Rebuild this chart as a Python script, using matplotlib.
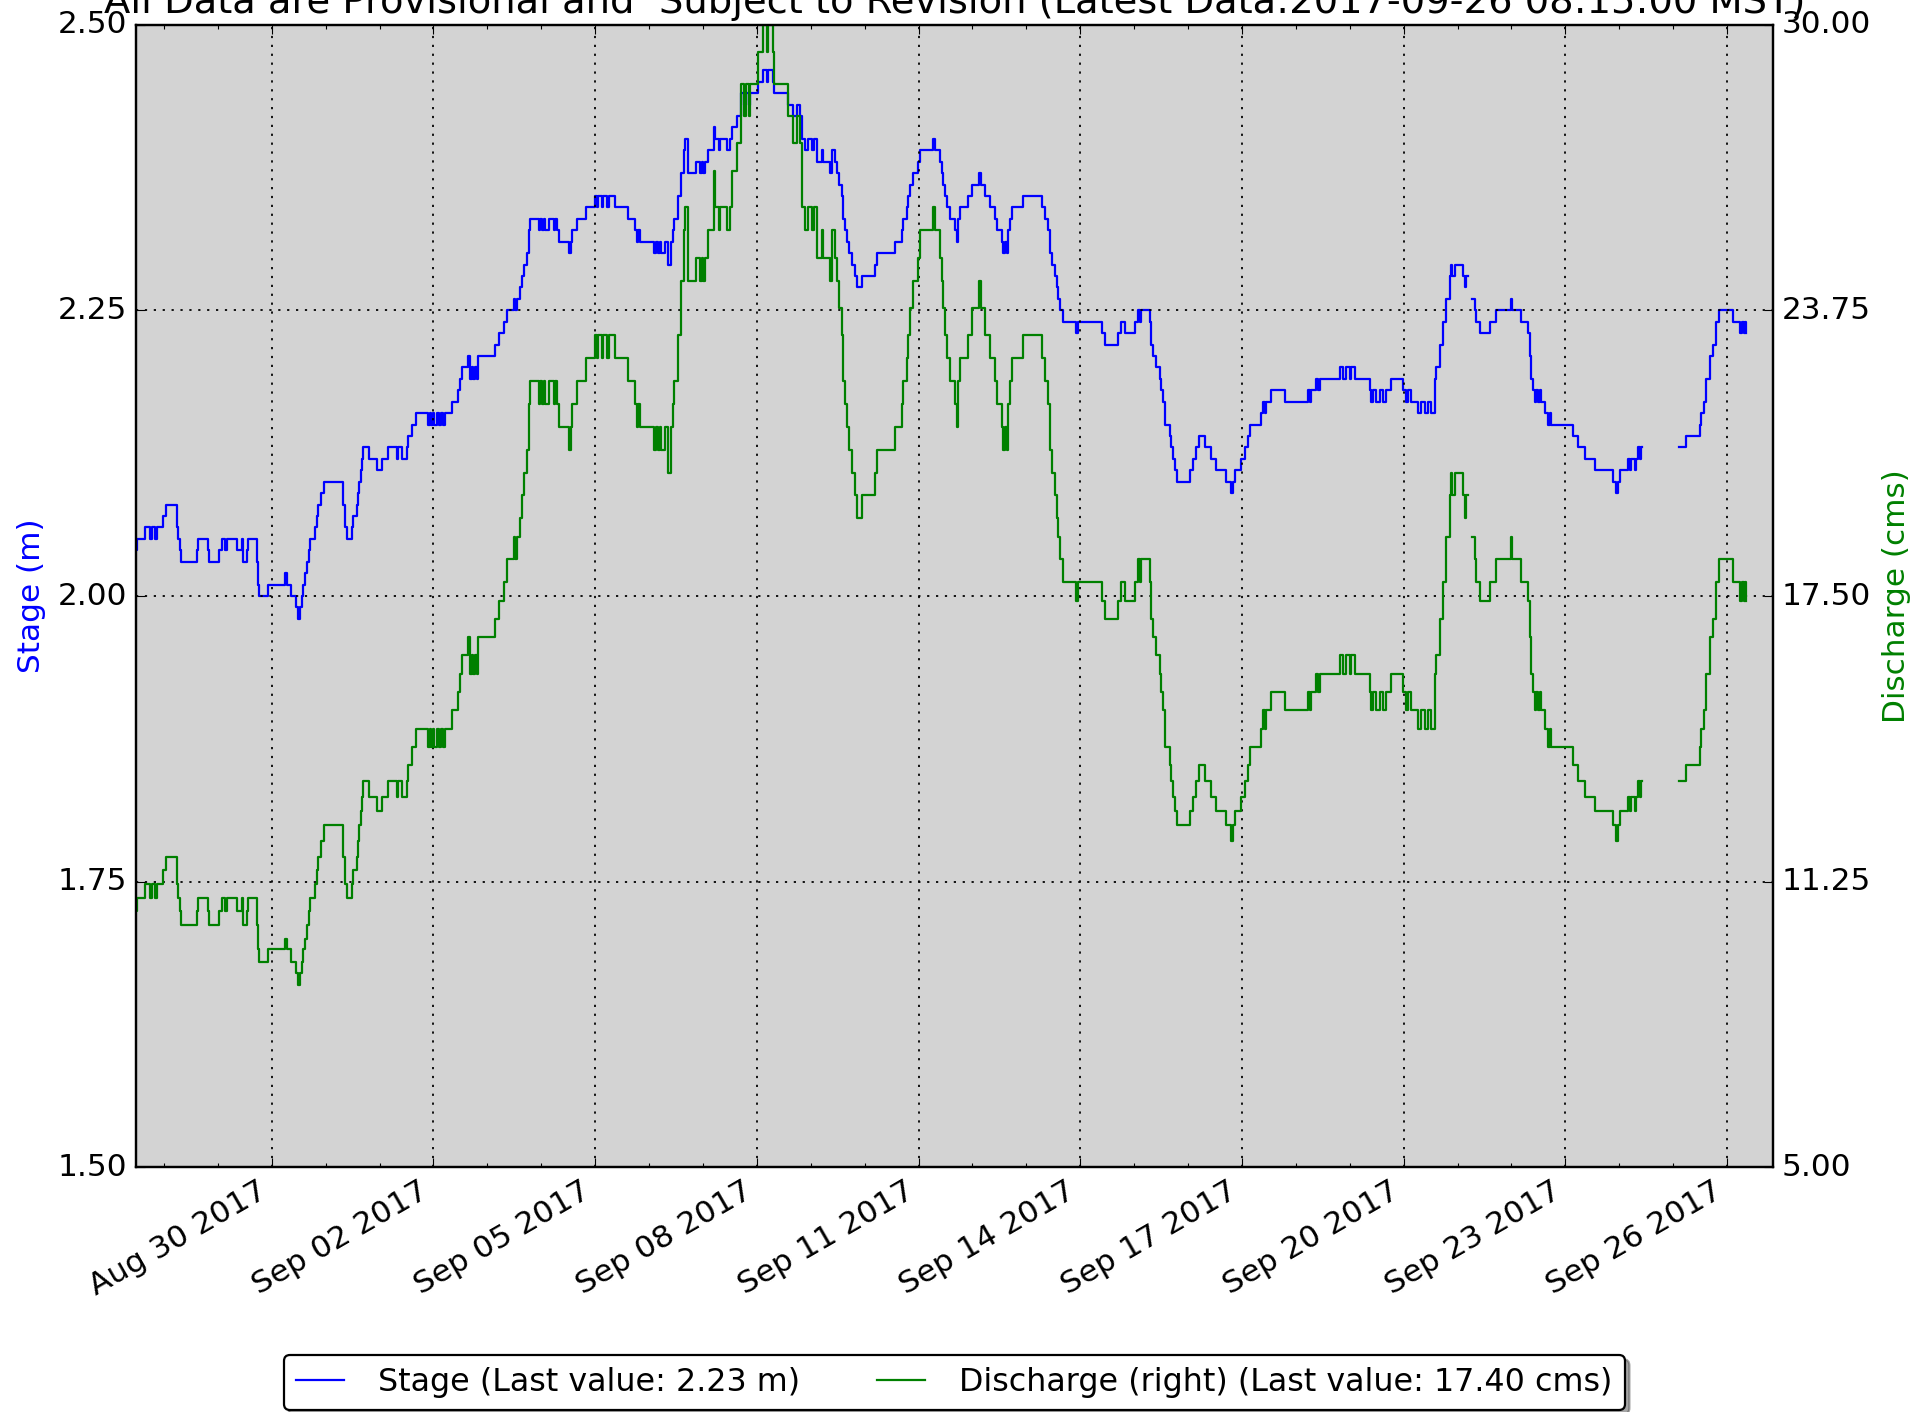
import matplotlib
matplotlib.use('Agg')
import matplotlib.pyplot as plt
import matplotlib.dates as mdates
import matplotlib.ticker as mticker
import numpy as np
import pandas as pd

nan = np.nan

# sample times, in days after 2017-08-27 00:00
t_days = [
    0.483, 0.508, 0.650, 0.743, 0.774, 0.836, 0.867, 0.990, 1.040, 1.237,
    1.268, 1.290, 1.312, 1.609, 1.640, 1.826, 1.844, 2.029, 2.072, 2.134,
    2.165, 2.351, 2.443, 2.474, 2.536, 2.567, 2.722, 2.740, 2.771, 2.938,
    3.247, 3.278, 3.353, 3.451, 3.495, 3.526, 3.557, 3.588, 3.618, 3.649,
    3.690, 3.711, 3.804, 3.835, 3.866, 3.920, 3.971, 4.330, 4.361, 4.391,
    4.484, 4.515, 4.577, 4.600, 4.626, 4.650, 4.670, 4.701, 4.812, 4.948,
    5.041, 5.164, 5.319, 5.350, 5.412, 5.505, 5.536, 5.597, 5.678, 5.907,
    5.930, 5.960, 5.990, 6.020, 6.060, 6.100, 6.140, 6.180, 6.216, 6.340,
    6.463, 6.494, 6.526, 6.650, 6.681, 6.712, 6.743, 6.773, 6.804, 6.835,
    7.146, 7.208, 7.301, 7.363, 7.487, 7.517, 7.548, 7.610, 7.641, 7.672,
    7.734, 7.765, 7.796, 7.951, 7.981, 8.012, 8.043, 8.074, 8.136, 8.228,
    8.259, 8.290, 8.339, 8.513, 8.544, 8.575, 8.667, 8.822, 9.000, 9.030,
    9.060, 9.120, 9.150, 9.220, 9.250, 9.371, 9.618, 9.742, 9.770, 9.800,
    9.830, 10.100, 10.130, 10.170, 10.200, 10.230, 10.290, 10.360, 10.400, 10.440,
    10.470, 10.530, 10.590, 10.650, 10.670, 10.730, 10.870, 10.950, 10.980, 11.010,
    11.040, 11.100, 11.210, 11.230, 11.290, 11.320, 11.450, 11.510, 11.540, 11.630,
    11.700, 11.760, 11.790, 11.850, 11.880, 12.030, 12.120, 12.180, 12.210, 12.300,
    12.310, 12.580, 12.675, 12.737, 12.798, 12.829, 12.891, 12.953, 13.015, 13.060,
    13.108, 13.200, 13.231, 13.355, 13.386, 13.448, 13.480, 13.528, 13.572, 13.603,
    13.634, 13.665, 13.714, 13.757, 13.819, 13.850, 13.942, 14.190, 14.221, 14.561,
    14.685, 14.716, 14.777, 14.808, 14.839, 14.889, 14.994, 15.025, 15.272, 15.309,
    15.396, 15.427, 15.458, 15.489, 15.519, 15.581, 15.674, 15.705, 15.736, 15.767,
    15.921, 15.983, 16.126, 16.150, 16.231, 16.323, 16.416, 16.447, 16.540, 16.571,
    16.602, 16.633, 16.664, 16.695, 16.725, 16.942, 17.282, 17.344, 17.406, 17.437,
    17.468, 17.529, 17.560, 17.591, 17.622, 17.684, 17.919, 17.950, 18.395, 18.457,
    18.704, 18.761, 18.823, 19.009, 19.071, 19.100, 19.132, 19.287, 19.320, 19.349,
    19.411, 19.473, 19.503, 19.534, 19.565, 19.658, 19.689, 19.720, 19.751, 19.794,
    20.029, 20.091, 20.153, 20.202, 20.307, 20.431, 20.524, 20.709, 20.790, 20.833,
    20.864, 20.988, 21.049, 21.111, 21.142, 21.359, 21.390, 21.420, 21.451, 21.544,
    21.792, 22.224, 22.255, 22.286, 22.379, 22.410, 22.441, 22.812, 22.874, 22.936,
    22.998, 23.030, 23.090, 23.369, 23.400, 23.431, 23.492, 23.554, 23.616, 23.678,
    23.771, 23.987, 24.049, 24.080, 24.141, 24.265, 24.327, 24.389, 24.451, 24.500,
    24.574, 24.605, 24.667, 24.729, 24.791, 24.853, 24.884, 24.900, 24.947, 25.101,
    25.132, 25.163, 25.194, 25.275, 25.318, 25.349, 25.411, 25.596, 25.720, 25.998,
    26.010, 26.184, 26.307, 26.339, 26.369, 26.400, 26.431, 26.462, 26.493, 26.524,
    26.555, 26.617, 26.678, 26.709, 26.740, 27.142, 27.235, 27.359, 27.544, 27.884,
    27.946, 27.977, 28.008, 28.163, 28.195, 28.224, 28.286, 28.317, 28.348, 28.379,
    28.400, 28.429, 29.109, 29.245, 29.492, 29.523, 29.566, 29.616, 29.678, 29.740,
    29.801, 29.851, 30.111, 30.247, 30.284, 30.309, 30.330, 30.346,
]

# stage in m
stage = [
    2.04, 2.05, 2.06, 2.05, 2.06, 2.05, 2.06, 2.07, 2.08, 2.06,
    2.05, 2.04, 2.03, 2.04, 2.05, 2.04, 2.03, 2.04, 2.05, 2.04,
    2.05, 2.04, 2.05, 2.03, 2.04, 2.05, 2.03, 2.01, 2.00, 2.01,
    2.02, 2.01, 2.00, 1.99, 1.98, 1.99, 2.00, 2.01, 2.02, 2.03,
    2.04, 2.05, 2.06, 2.07, 2.08, 2.09, 2.10, 2.08, 2.06, 2.05,
    2.06, 2.07, 2.08, 2.09, 2.10, 2.11, 2.12, 2.13, 2.12, 2.11,
    2.12, 2.13, 2.12, 2.13, 2.12, 2.13, 2.14, 2.15, 2.16, 2.15,
    2.16, 2.15, 2.16, 2.15, 2.16, 2.15, 2.16, 2.15, 2.16, 2.17,
    2.18, 2.19, 2.20, 2.21, 2.19, 2.20, 2.19, 2.20, 2.19, 2.21,
    2.22, 2.23, 2.24, 2.25, 2.26, 2.25, 2.26, 2.27, 2.28, 2.29,
    2.30, 2.32, 2.33, 2.32, 2.33, 2.32, 2.33, 2.32, 2.33, 2.32,
    2.33, 2.32, 2.31, 2.30, 2.31, 2.32, 2.33, 2.34, 2.35, 2.34,
    2.35, 2.34, 2.35, 2.34, 2.35, 2.34, 2.33, 2.32, 2.31, 2.32,
    2.31, 2.30, 2.31, 2.30, 2.31, 2.30, 2.31, 2.29, 2.31, 2.32,
    2.33, 2.35, 2.37, 2.39, 2.40, 2.37, 2.38, 2.37, 2.38, 2.37,
    2.38, 2.39, 2.41, 2.40, 2.39, 2.40, 2.39, 2.40, 2.41, 2.42,
    2.44, 2.43, 2.44, 2.43, 2.44, 2.45, 2.46, 2.45, 2.46, 2.45,
    2.44, 2.43, 2.42, 2.43, 2.42, 2.40, 2.39, 2.40, 2.39, 2.40,
    2.38, 2.39, 2.38, 2.37, 2.39, 2.38, 2.37, 2.36, 2.35, 2.33,
    2.32, 2.31, 2.30, 2.29, 2.28, 2.27, 2.28, 2.29, 2.30, 2.31,
    2.32, 2.33, 2.34, 2.35, 2.36, 2.37, 2.38, 2.39, 2.40, 2.39,
    2.38, 2.37, 2.36, 2.35, 2.34, 2.33, 2.32, 2.31, 2.33, 2.34,
    2.35, 2.36, 2.37, 2.36, 2.35, 2.34, 2.33, 2.32, 2.31, 2.30,
    2.31, 2.30, 2.32, 2.33, 2.34, 2.35, 2.34, 2.33, 2.32, 2.30,
    2.29, 2.28, 2.27, 2.26, 2.25, 2.24, 2.23, 2.24, 2.23, 2.22,
    2.23, 2.24, 2.23, 2.24, 2.25, 2.24, 2.25, 2.24, 2.22, 2.21,
    2.20, 2.19, 2.18, 2.17, 2.15, 2.14, 2.13, 2.12, 2.11, 2.10,
    2.11, 2.12, 2.13, 2.14, 2.13, 2.12, 2.11, 2.10, 2.09, 2.10,
    2.11, 2.12, 2.13, 2.14, 2.15, 2.16, 2.17, 2.16, 2.17, 2.18,
    2.17, 2.18, 2.17, 2.18, 2.19, 2.18, 2.19, 2.20, 2.19, 2.20,
    2.19, 2.20, 2.19, 2.18, 2.17, 2.18, 2.17, 2.18, 2.17, 2.18,
    2.19, 2.18, 2.17, 2.18, 2.17, 2.16, 2.17, 2.16, 2.17, 2.16,
    2.19, 2.20, 2.22, 2.24, 2.26, 2.28, 2.29, 2.28, 2.29, 2.28,
    2.27, 2.28, nan, 2.26, 2.25, 2.24, 2.23, 2.24, 2.25, 2.26,
    2.25, 2.24, 2.23, 2.21, 2.19, 2.18, 2.17, 2.18, 2.17, 2.18,
    2.17, 2.16, 2.15, 2.16, 2.15, 2.14, 2.13, 2.12, 2.11, 2.10,
    2.09, 2.10, 2.11, 2.12, 2.11, 2.12, 2.11, 2.12, 2.13, 2.12,
    2.13, nan, 2.13, 2.14, 2.15, 2.16, 2.17, 2.19, 2.21, 2.22,
    2.24, 2.25, 2.24, 2.23, 2.24, 2.23, 2.24, 2.23,
]

# discharge in cms
discharge = [
    10.6, 10.9, 11.2, 10.9, 11.2, 10.9, 11.2, 11.5, 11.8, 11.2,
    10.9, 10.6, 10.3, 10.6, 10.9, 10.6, 10.3, 10.6, 10.9, 10.6,
    10.9, 10.6, 10.9, 10.3, 10.6, 10.9, 10.3, 9.77, 9.5, 9.77,
    10.0, 9.77, 9.5, 9.25, 9.0, 9.25, 9.5, 9.77, 10.0, 10.3,
    10.6, 10.9, 11.2, 11.5, 11.8, 12.15, 12.5, 11.8, 11.2, 10.9,
    11.2, 11.5, 11.8, 12.15, 12.5, 12.8, 13.1, 13.45, 13.1, 12.8,
    13.1, 13.45, 13.1, 13.45, 13.1, 13.45, 13.8, 14.2, 14.6, 14.2,
    14.6, 14.2, 14.6, 14.2, 14.6, 14.2, 14.6, 14.2, 14.6, 15.0,
    15.4, 15.8, 16.2, 16.6, 15.8, 16.2, 15.8, 16.2, 15.8, 16.6,
    17.0, 17.4, 17.8, 18.3, 18.8, 18.3, 18.8, 19.2, 19.7, 20.2,
    20.7, 21.7, 22.2, 21.7, 22.2, 21.7, 22.2, 21.7, 22.2, 21.7,
    22.2, 21.7, 21.2, 20.7, 21.2, 21.7, 22.2, 22.7, 23.2, 22.7,
    23.2, 22.7, 23.2, 22.7, 23.2, 22.7, 22.2, 21.7, 21.2, 21.7,
    21.2, 20.7, 21.2, 20.7, 21.2, 20.7, 21.2, 20.2, 21.2, 21.7,
    22.2, 23.2, 24.4, 25.5, 26.0, 24.4, 24.9, 24.4, 24.9, 24.4,
    24.9, 25.5, 26.8, 26.0, 25.5, 26.0, 25.5, 26.0, 26.8, 27.4,
    28.7, 28.0, 28.7, 28.0, 28.7, 29.4, 30.0, 29.4, 30.0, 29.4,
    28.7, 28.0, 27.4, 28.0, 27.4, 26.0, 25.5, 26.0, 25.5, 26.0,
    24.9, 25.5, 24.9, 24.4, 25.5, 24.9, 24.4, 23.8, 23.2, 22.2,
    21.7, 21.2, 20.7, 20.2, 19.7, 19.2, 19.7, 20.2, 20.7, 21.2,
    21.7, 22.2, 22.7, 23.2, 23.8, 24.4, 24.9, 25.5, 26.0, 25.5,
    24.9, 24.4, 23.8, 23.2, 22.7, 22.2, 21.7, 21.2, 22.2, 22.7,
    23.2, 23.8, 24.4, 23.8, 23.2, 22.7, 22.2, 21.7, 21.2, 20.7,
    21.2, 20.7, 21.7, 22.2, 22.7, 23.2, 22.7, 22.2, 21.7, 20.7,
    20.2, 19.7, 19.2, 18.8, 18.3, 17.8, 17.4, 17.8, 17.4, 17.0,
    17.4, 17.8, 17.4, 17.8, 18.3, 17.8, 18.3, 17.8, 17.0, 16.6,
    16.2, 15.8, 15.4, 15.0, 14.2, 13.8, 13.45, 13.1, 12.8, 12.5,
    12.8, 13.1, 13.45, 13.8, 13.45, 13.1, 12.8, 12.5, 12.15, 12.5,
    12.8, 13.1, 13.45, 13.8, 14.2, 14.6, 15.0, 14.6, 15.0, 15.4,
    15.0, 15.4, 15.0, 15.4, 15.8, 15.4, 15.8, 16.2, 15.8, 16.2,
    15.8, 16.2, 15.8, 15.4, 15.0, 15.4, 15.0, 15.4, 15.0, 15.4,
    15.8, 15.4, 15.0, 15.4, 15.0, 14.6, 15.0, 14.6, 15.0, 14.6,
    15.8, 16.2, 17.0, 17.8, 18.8, 19.7, 20.2, 19.7, 20.2, 19.7,
    19.2, 19.7, nan, 18.8, 18.3, 17.8, 17.4, 17.8, 18.3, 18.8,
    18.3, 17.8, 17.4, 16.6, 15.8, 15.4, 15.0, 15.4, 15.0, 15.4,
    15.0, 14.6, 14.2, 14.6, 14.2, 13.8, 13.45, 13.1, 12.8, 12.5,
    12.15, 12.5, 12.8, 13.1, 12.8, 13.1, 12.8, 13.1, 13.45, 13.1,
    13.45, nan, 13.45, 13.8, 14.2, 14.6, 15.0, 15.8, 16.6, 17.0,
    17.8, 18.3, 17.8, 17.4, 17.8, 17.4, 17.8, 17.4,
]

stage_ticks = [1.50, 1.75, 2.00, 2.25, 2.50]
discharge_ticks = [5.00, 11.25, 17.50, 23.75, 30.00]
tick_dates = ['2017-08-30', '2017-09-02', '2017-09-05', '2017-09-08', '2017-09-11',
              '2017-09-14', '2017-09-17', '2017-09-20', '2017-09-23', '2017-09-26']

title = 'All Data are Provisional and  Subject to Revision (Latest Data:2017-09-26 08:15:00 MST)'

times = pd.Timestamp('2017-08-27') + pd.to_timedelta(t_days, unit='D')

plt.style.use('classic')
plt.rcParams['font.family'] = ['DejaVu Sans']
plt.rcParams['font.size'] = 14

fig = plt.figure(figsize=(11.975, 8.825), dpi=160, facecolor='white')
ax = fig.add_axes([0.0710, 0.1732, 0.8542, 0.8094])
ax.set_facecolor('lightgray')

l1, = ax.plot(times, stage, color='b', lw=1.0, drawstyle='steps-post',
              label='Stage (Last value: 2.23 m)')
ax2 = ax.twinx()
l2, = ax2.plot(times, discharge, color='g', lw=1.0, drawstyle='steps-post',
               label='Discharge (right) (Last value: 17.40 cms)')

ax.set_xlim(times[0], times[-1] + pd.Timedelta(hours=12))
ax.set_ylim(1.5, 2.5)
ax2.set_ylim(5, 30)
ax.set_yticks(stage_ticks)
ax2.set_yticks(discharge_ticks)
ax.yaxis.set_major_formatter(mticker.FormatStrFormatter('%.2f'))
ax2.yaxis.set_major_formatter(mticker.FormatStrFormatter('%.2f'))
ax.tick_params(axis='both', labelsize=14)
ax2.tick_params(axis='y', labelsize=14)

ax.xaxis.set_major_locator(mticker.FixedLocator(mdates.date2num(pd.to_datetime(tick_dates))))
ax.xaxis.set_minor_locator(mdates.DayLocator())
ax.xaxis.set_major_formatter(mdates.DateFormatter('%b %d %Y'))
for lbl in ax.get_xticklabels():
    lbl.set_rotation(30)
    lbl.set_ha('right')

ax.grid(True, which='major', color='k', linestyle=':', linewidth=0.8)

ax.set_ylabel('Stage (m)', color='b', fontsize=14)
ax2.set_ylabel('Discharge (cms)', color='g', fontsize=14)
ax.set_title(title, fontsize=17.3)

leg = ax.legend([l1, l2], [l1.get_label(), l2.get_label()], loc='upper center',
                bbox_to_anchor=(0.5, -0.150), ncol=2, shadow=True, fancybox=True,
                fontsize=14.3, handlelength=1.5, handletextpad=1.1,
                borderpad=0.38, columnspacing=2.4, numpoints=1)
leg.get_frame().set_edgecolor('black')

fig.savefig('out.png', dpi=160, facecolor='white')
